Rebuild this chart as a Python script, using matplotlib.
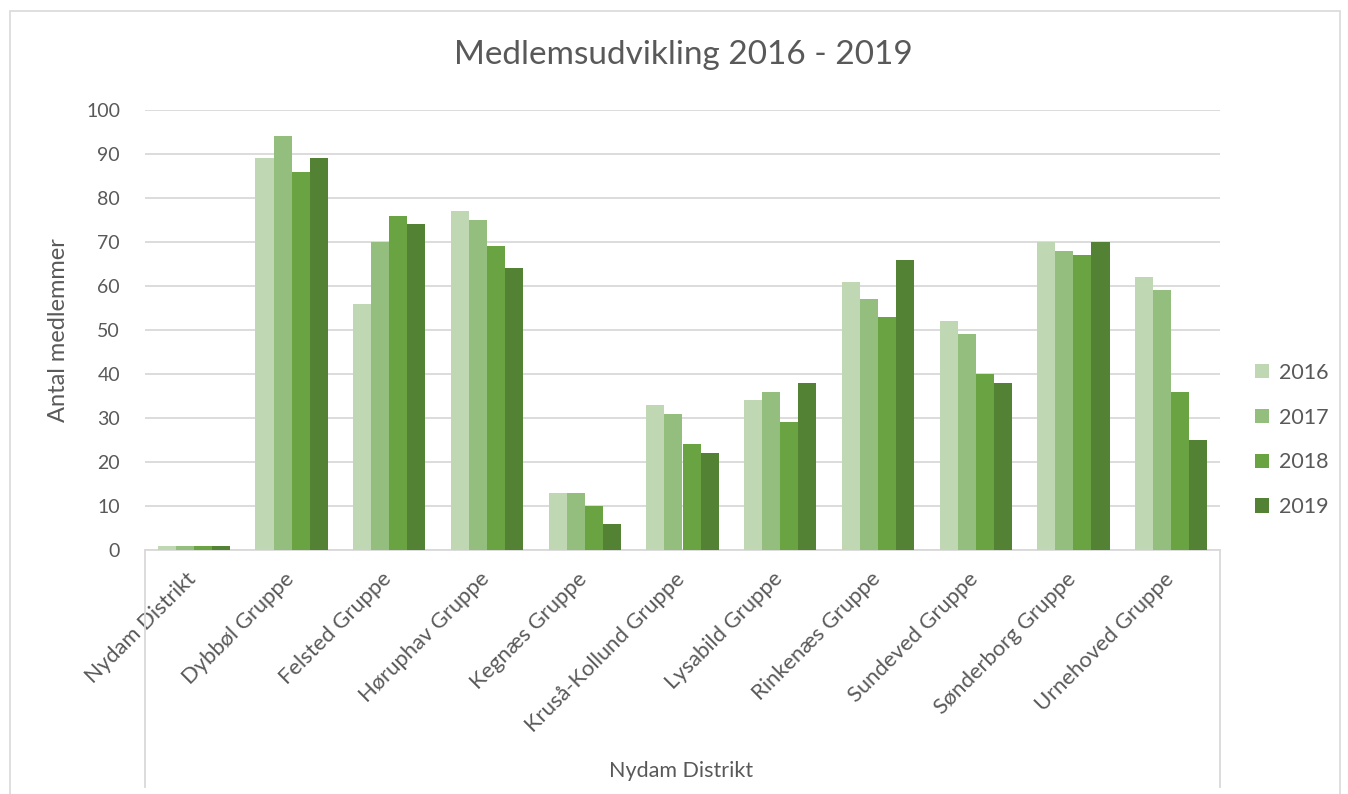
import matplotlib
matplotlib.use("Agg")
import matplotlib.pyplot as plt
import numpy as np
from matplotlib.patches import Rectangle
from matplotlib.lines import Line2D

categories = ["Nydam Distrikt", "Dybbøl Gruppe", "Felsted Gruppe", "Høruphav Gruppe",
              "Kegnæs Gruppe", "Kruså-Kollund Gruppe", "Lysabild Gruppe", "Rinkenæs Gruppe",
              "Sundeved Gruppe", "Sønderborg Gruppe", "Urnehoved Gruppe"]
years = ["2016", "2017", "2018", "2019"]
v2016 = [1, 89, 56, 77, 13, 33, 34, 61, 52, 70, 62]
v2017 = [1, 94, 70, 75, 13, 31, 36, 57, 49, 68, 59]
v2018 = [1, 86, 76, 69, 10, 24, 29, 53, 40, 67, 36]
v2019 = [1, 89, 74, 64, 6, 22, 38, 66, 38, 70, 25]
yticks = [0, 10, 20, 30, 40, 50, 60, 70, 80, 90, 100]
group_label = "Nydam Distrikt"
title = "Medlemsudvikling 2016 - 2019"
ylabel = "Antal medlemmer"

colors = ["#C0D7B4", "#93BE7D", "#6AA342", "#548235"]
series = [v2016, v2017, v2018, v2019]

plt.rcParams['font.family'] = ['Lato', 'DejaVu Sans']
W, H = 1348, 794
fig = plt.figure(figsize=(W/100, H/100), dpi=100)
x0, x1, y0, y1 = 145, 1220, 550, 110
ax = fig.add_axes([x0/W, 1 - y0/H, (x1-x0)/W, (y0-y1)/H])

n = len(categories)
x = np.arange(n)
bw = 0.185
for i, (s, c) in enumerate(zip(series, colors)):
    ax.bar(x + (i - 1.5) * bw, s, width=bw, color=c, label=years[i], zorder=3)

ax.set_xlim(-0.5, n - 0.5)
ax.set_ylim(0, 100)
ax.set_yticks(yticks)
ax.set_yticklabels([str(t) for t in yticks], fontsize=14, color="#595959")
ax.grid(axis="y", color="#D9D9D9", linewidth=1.3, zorder=0)
for sp in ["top", "right", "left"]:
    ax.spines[sp].set_visible(False)
ax.spines["bottom"].set_color("#D9D9D9")
ax.spines["bottom"].set_linewidth(1.3)
ax.tick_params(axis="y", length=0, pad=18)
ax.tick_params(axis="x", length=0)
ax.set_xticks(x)
ax.set_xticklabels([])
for xi, lab in zip(x, categories):
    ax.annotate(lab, xy=(xi, 0), xycoords="data", xytext=(-0.5, -18.5), textcoords="offset points",
                rotation=45, ha="right", va="center", rotation_mode="anchor",
                fontsize=15.8, color="#595959")

ax.set_ylabel(ylabel, fontsize=17, color="#595959", labelpad=12)

fig.text(683/W, 1 - 55/H, title, ha="center", va="center", fontsize=24, color="#595959")
fig.text(681/W, 1 - 771/H, group_label, ha="center", va="center", fontsize=15.5, color="#595959")

# multi-level axis box lines
for xp in [x0, x1]:
    fig.add_artist(Line2D([xp/W, xp/W], [1 - y0/H, 1 - 787/H], color="#D9D9D9", linewidth=1.3))

# chart border (bottom edge lies outside the canvas)
fig.add_artist(Rectangle((10/W, 1 - 810/H), (1340-10)/W, (810-11)/H, fill=False,
                         edgecolor="#D9D9D9", linewidth=1.2))

leg = ax.legend(loc="center left", bbox_to_anchor=(1236/W, 1 - 440/H), bbox_transform=fig.transFigure,
                frameon=False, fontsize=15.5, labelcolor="#595959", handlelength=0.65, handleheight=0.65,
                labelspacing=1.15, handletextpad=0.45)

fig.savefig("out.png", dpi=100)
